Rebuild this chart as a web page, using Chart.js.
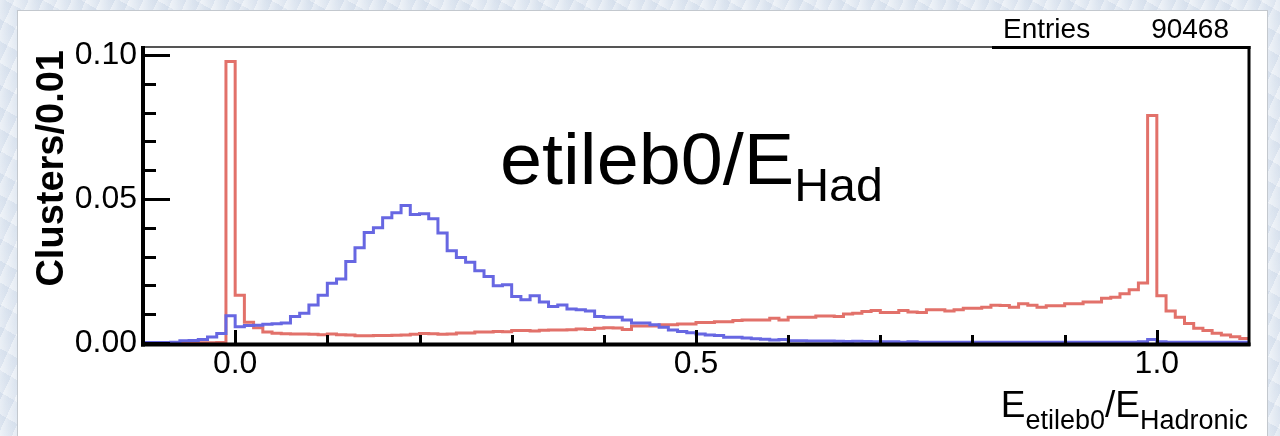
<!DOCTYPE html>
<html>
<head>
<meta charset="utf-8">
<script src="https://cdn.jsdelivr.net/npm/chart.js@4.4.1/dist/chart.umd.min.js"></script>
<style>
    html, body { margin: 0; padding: 0; }
    body {
        width: 1280px;
        height: 436px;
        overflow: hidden;
        background-color: #dfe7f1;
        background-image:
            repeating-linear-gradient(115deg, rgba(255,255,255,0.35) 0px, rgba(255,255,255,0) 7px, rgba(200,212,230,0.25) 13px),
            repeating-linear-gradient(30deg, rgba(255,255,255,0.3) 0px, rgba(255,255,255,0) 11px, rgba(190,204,224,0.2) 19px);
    }
    #hist { display: block; }
</style>
</head>
<body>
<canvas id="hist" width="1280" height="436"></canvas>
<script>
//======================================================================================================================
// Histogram data: 120 bins of width 0.01 from -0.10 to 1.10
//======================================================================================================================

var binLow = -0.10;
var binWidth = 0.01;

// blue histogram, one value per bin (left edge -0.10 ... 1.09)
var blueCounts = [
    0.0002, 0.0002, 0.0002, 0.0003, 0.0008, 0.0009, 0.0012, 0.0021, 0.0033, 0.0095,
    0.0056, 0.0061, 0.0062, 0.0065, 0.0067, 0.0069, 0.0092, 0.0103, 0.0132, 0.0166,
    0.0207, 0.0222, 0.0283, 0.0331, 0.0384, 0.0400, 0.0435, 0.0452, 0.0477, 0.0446,
    0.0449, 0.0431, 0.0382, 0.0320, 0.0297, 0.0280, 0.0251, 0.0231, 0.0199, 0.0202,
    0.0161, 0.0150, 0.0164, 0.0142, 0.0127, 0.0132, 0.0118, 0.0115, 0.0111, 0.0092,
    0.0089, 0.0089, 0.0080, 0.0069, 0.0069, 0.0063, 0.0055, 0.0045, 0.0040, 0.0036,
    0.0031, 0.0028, 0.0026, 0.0020, 0.0020, 0.0017, 0.0015, 0.0013, 0.0010, 0.0012,
    0.0008, 0.0008, 0.0007, 0.0007, 0.0007, 0.0006, 0.0005, 0.0006, 0.0005, 0.0004,
    0.0004, 0.0004, 0.0003, 0.0004, 0.0003, 0.0003, 0.0003, 0.0003, 0.0003, 0.0003,
    0.0003, 0.0003, 0.0003, 0.0003, 0.0003, 0.0003, 0.0003, 0.0003, 0.0003, 0.0003,
    0.0003, 0.0003, 0.0003, 0.0003, 0.0003, 0.0003, 0.0003, 0.0003, 0.0004, 0.0012,
    0.0004, 0.0003, 0.0003, 0.0003, 0.0003, 0.0003, 0.0003, 0.0003, 0.0003, 0.0003
];

// red histogram, same binning
var redCounts = [
    0.0001, 0.0001, 0.0001, 0.0001, 0.0001, 0.0001, 0.0001, 0.0001, 0.0002, 0.0977,
    0.0166, 0.0072, 0.0053, 0.0038, 0.0034, 0.0032, 0.0031, 0.0031, 0.0030, 0.0029,
    0.0031, 0.0029, 0.0028, 0.0025, 0.0025, 0.0026, 0.0026, 0.0027, 0.0028, 0.0030,
    0.0033, 0.0032, 0.0030, 0.0031, 0.0035, 0.0035, 0.0038, 0.0038, 0.0040, 0.0039,
    0.0043, 0.0043, 0.0042, 0.0044, 0.0045, 0.0045, 0.0046, 0.0049, 0.0047, 0.0051,
    0.0053, 0.0052, 0.0047, 0.0059, 0.0059, 0.0059, 0.0063, 0.0063, 0.0066, 0.0066,
    0.0071, 0.0071, 0.0074, 0.0074, 0.0078, 0.0080, 0.0080, 0.0080, 0.0086, 0.0080,
    0.0089, 0.0089, 0.0089, 0.0094, 0.0094, 0.0092, 0.0101, 0.0103, 0.0109, 0.0113,
    0.0106, 0.0106, 0.0113, 0.0108, 0.0106, 0.0115, 0.0115, 0.0111, 0.0115, 0.0121,
    0.0121, 0.0124, 0.0131, 0.0130, 0.0124, 0.0136, 0.0131, 0.0124, 0.0129, 0.0129,
    0.0136, 0.0136, 0.0142, 0.0142, 0.0155, 0.0159, 0.0171, 0.0185, 0.0208, 0.0790,
    0.0164, 0.0111, 0.0089, 0.0068, 0.0051, 0.0043, 0.0034, 0.0028, 0.0022, 0.0016
];

var xRange = [-0.10, 1.10];
var yRange = [0, 0.1024];
var xTickLabels = [0.0, 0.5, 1.0];
var yTickLabels = [0.00, 0.05, 0.10];
var xMinorStep = 0.1;
var yMinorStep = 0.01;
var entries = '90468';

var fontFamily = '"Liberation Sans", Arial, Helvetica, sans-serif';

// histogram -> step points at bin edges, closing point at the upper edge
function stepPoints(values) {
    var pts = values.map(function(v, i) {
        return { x: +(binLow + i * binWidth).toFixed(2), y: v };
    });
    pts.push({ x: +(binLow + values.length * binWidth).toFixed(2), y: values[values.length - 1] });
    return pts;
}

//======================================================================================================================
// ROOT-like frame, inward ticks and texts
//======================================================================================================================

var rootFrame = {
    id: 'rootFrame',
    beforeDraw: function(chart) {
        var ctx = chart.ctx;
        ctx.save();
        ctx.fillStyle = '#ffffff';
        ctx.fillRect(17, 10, 1251, 430);
        ctx.strokeStyle = '#c3c8ce';
        ctx.lineWidth = 1;
        ctx.strokeRect(17.5, 10.5, 1250, 440);
        ctx.restore();
    },
    afterDatasetsDraw: function(chart) {
        var ctx = chart.ctx;
        var area = chart.chartArea;
        var xs = chart.scales.x;
        var ys = chart.scales.y;
        ctx.save();
        ctx.strokeStyle = '#000';
        ctx.lineCap = 'butt';

        // y ticks, pointing into the frame
        ctx.lineWidth = 3;
        for (var k = 0; k * yMinorStep <= yRange[1] + 1e-9; k++) {
            var v = +(k * yMinorStep).toFixed(2);
            var py = Math.round(ys.getPixelForValue(v)) + 0.5;
            var major = yTickLabels.some(function(t) { return Math.abs(t - v) < 1e-6; });
            ctx.beginPath();
            ctx.moveTo(area.left, py);
            ctx.lineTo(area.left + (major ? 27 : 13), py);
            ctx.stroke();
        }

        // x ticks, pointing up
        for (var j = 1; xRange[0] + j * xMinorStep < xRange[1] - 1e-6; j++) {
            var xv = +(xRange[0] + j * xMinorStep).toFixed(2);
            var px = Math.round(xs.getPixelForValue(xv)) + 0.5;
            var isMajor = xTickLabels.some(function(t) { return Math.abs(t - xv) < 1e-6; });
            ctx.beginPath();
            ctx.moveTo(px, area.bottom + 1);
            ctx.lineTo(px, area.bottom - (isMajor ? 13 : 8));
            ctx.stroke();
        }

        // frame
        ctx.lineWidth = 2;
        ctx.strokeStyle = '#555';
        ctx.beginPath();
        ctx.moveTo(area.left, area.top - 1);
        ctx.lineTo(992, area.top - 1);
        ctx.stroke();
        ctx.strokeStyle = '#000';
        ctx.lineWidth = 3;
        ctx.beginPath();
        ctx.moveTo(992, area.top - 0.5);
        ctx.lineTo(area.right + 1.5, area.top - 0.5);
        ctx.stroke();
        ctx.beginPath();
        ctx.moveTo(area.right, area.top - 2);
        ctx.lineTo(area.right, area.bottom + 3);
        ctx.stroke();
        ctx.lineWidth = 4;
        ctx.beginPath();
        ctx.moveTo(area.left - 2, area.bottom + 1.5);
        ctx.lineTo(area.right + 1.5, area.bottom + 1.5);
        ctx.stroke();
        ctx.beginPath();
        ctx.moveTo(area.left, area.top - 2);
        ctx.lineTo(area.left, area.bottom + 3.5);
        ctx.stroke();
        ctx.restore();
    },
    afterDraw: function(chart) {
        var ctx = chart.ctx;
        var area = chart.chartArea;
        ctx.save();
        ctx.fillStyle = '#000';
        ctx.textBaseline = 'alphabetic';

        // stats box
        ctx.font = '28px ' + fontFamily;
        ctx.textAlign = 'left';
        ctx.fillText('Entries', 1003, 38);
        ctx.textAlign = 'right';
        ctx.fillText(entries, 1229, 38);

        // title inside the pad, slightly wide like the original
        ctx.textAlign = 'left';
        ctx.save();
        ctx.translate(500, 0);
        ctx.scale(1.05, 1);
        ctx.font = '72px ' + fontFamily;
        ctx.fillText('etileb0/E', 0, 184);
        var tx = ctx.measureText('etileb0/E').width;
        ctx.font = '46px ' + fontFamily;
        ctx.fillText('Had', tx, 201);
        ctx.restore();

        // x axis title, right aligned to the frame
        var parts = [
            { t: 'E', size: 37, dy: 0 },
            { t: 'etileb0', size: 27, dy: 12 },
            { t: '/', size: 37, dy: 0 },
            { t: 'E', size: 37, dy: 0 },
            { t: 'Hadronic', size: 27, dy: 12 }
        ];
        var total = 0;
        parts.forEach(function(p) {
            ctx.font = p.size + 'px ' + fontFamily;
            p.w = ctx.measureText(p.t).width;
            total += p.w;
        });
        var ax = area.right - 1 - total;
        parts.forEach(function(p) {
            ctx.font = p.size + 'px ' + fontFamily;
            ctx.fillText(p.t, ax, 417 + p.dy);
            ax += p.w;
        });

        // y axis title, rotated, ending at the top of the frame
        ctx.translate(63, area.top + 2);
        ctx.rotate(-Math.PI / 2);
        ctx.textAlign = 'right';
        ctx.font = 'bold 38px ' + fontFamily;
        ctx.fillText('Clusters/0.01', 0, 0);
        ctx.restore();
    }
};

//======================================================================================================================
// Chart
//======================================================================================================================

new Chart(document.getElementById('hist'), {
    type: 'line',
    data: {
        datasets: [{
            data: stepPoints(blueCounts),
            borderColor: '#6767e2',
            borderWidth: 3,
            stepped: 'before',
            pointRadius: 0,
            fill: false
        }, {
            data: stepPoints(redCounts),
            borderColor: '#e2716a',
            borderWidth: 3,
            stepped: 'before',
            pointRadius: 0,
            fill: false
        }]
    },
    options: {
        responsive: false,
        animation: false,
        events: [],
        layout: {
            padding: { top: 48, right: 31, bottom: 0, left: 0 }
        },
        plugins: {
            legend: { display: false },
            tooltip: { enabled: false }
        },
        scales: {
            x: {
                type: 'linear',
                min: xRange[0],
                max: xRange[1],
                grid: { display: false, drawTicks: false },
                border: { display: false },
                afterBuildTicks: function(scale) {
                    scale.ticks = xTickLabels.map(function(v) { return { value: v }; });
                },
                afterFit: function(scale) {
                    scale.height = 93;
                },
                ticks: {
                    color: '#000',
                    padding: 2,
                    maxRotation: 0,
                    autoSkip: false,
                    font: { family: fontFamily, size: 32 },
                    callback: function(v) { return v.toFixed(1); }
                }
            },
            y: {
                type: 'linear',
                min: yRange[0],
                max: yRange[1],
                grid: { display: false, drawTicks: false },
                border: { display: false },
                afterBuildTicks: function(scale) {
                    scale.ticks = yTickLabels.map(function(v) { return { value: v }; });
                },
                afterFit: function(scale) {
                    scale.width = 143;
                },
                ticks: {
                    color: '#000',
                    padding: 6,
                    autoSkip: false,
                    font: { family: fontFamily, size: 32 },
                    callback: function(v) { return v.toFixed(2); }
                }
            }
        }
    },
    plugins: [rootFrame]
});
</script>
</body>
</html>
